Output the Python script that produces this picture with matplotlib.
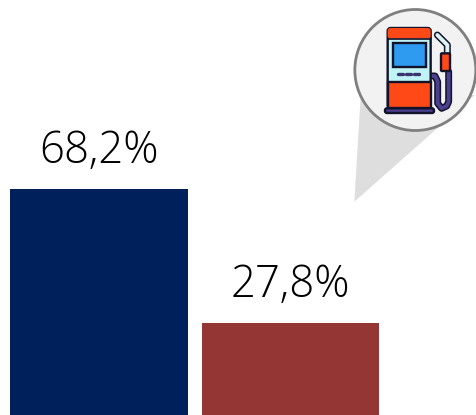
import matplotlib
matplotlib.use('Agg')
import matplotlib.pyplot as plt
from matplotlib.patches import Circle, Polygon, FancyBboxPatch, Rectangle

labels = ['68,2%', '27,8%']
values = [68.2, 27.8]
colors = ['#00205C', '#943634']

plt.rcParams['font.family'] = ['Open Sans', 'DejaVu Sans']

fig = plt.figure(figsize=(4.77, 4.15), dpi=100)
ax = fig.add_axes([0, 0, 1, 1])
ax.bar([0, 1], values, width=0.925, color=colors)
for i, v in enumerate(values):
    ax.text(i, v + 7.8, labels[i], ha='center', va='baseline', fontsize=31.5, fontweight='light', color='#000000')
ax.set_xlim(-0.517, -0.517 + 477 / 191.5)
ax.set_ylim(0, 125.4)
ax.axis('off')

# callout + pump icon, coordinates are pixels of the picture
ic = fig.add_axes([0, 0, 1, 1], facecolor='none')
ic.set_xlim(0, 477)
ic.set_ylim(415, 0)
ic.axis('off')


def z(x, y):
    # zoom crop coords -> picture pixels
    return (340 + x / 3, y / 3)


def rect(x0, y0, x1, y1, fc, lw=1.7, r=0.0, ec='#12122a', zo=5):
    a = z(x0, y0)
    b = z(x1, y1)
    if r > 0:
        p = FancyBboxPatch((a[0] + r, a[1] + r), b[0] - a[0] - 2 * r, b[1] - a[1] - 2 * r,
                           boxstyle='round,pad=%f' % r, fc=fc, ec=ec, lw=lw, zorder=zo)
    else:
        p = Rectangle(a, b[0] - a[0], b[1] - a[1], fc=fc, ec=ec, lw=lw, zorder=zo)
    ic.add_patch(p)


def line(pts, color, lw, zo=4):
    xy = [z(*p) for p in pts]
    ic.plot([p[0] for p in xy], [p[1] for p in xy], color=color, lw=lw, zorder=zo,
            solid_capstyle='round', solid_joinstyle='round')


ic.add_patch(Polygon([z(43, 605), z(62, 290), z(405, 285)], fc='#DEDEDE', ec='none', zorder=1))
ic.add_patch(Circle(z(226, 210), 60.5, fc='#F2F2F2', ec='#7F7F7F', lw=2, zorder=2))

# hose, dark outline first
hose = [(272, 228), (285, 228), (293, 245), (293, 310), (305, 325), (320, 318), (326, 305), (326, 215)]
line(hose, '#12122a', 5.0)
line(hose, '#4B3F8F', 2.8)
noz = [(292, 105), (322, 135), (322, 165)]
line(noz, '#12122a', 5.0)
line(noz, '#DDF3F5', 2.8)
rect(303, 160, 330, 213, '#FF4A17', r=1.0)

# pump body
rect(143, 84, 272, 325, '#BFF3F5', r=3.0)
rect(143, 84, 272, 116, '#FF4A17', r=3.0, lw=0.0, ec='none')
line([(143, 116), (272, 116)], '#12122a', 1.2, zo=6)
rect(143, 245, 272, 325, '#FF4A17')
rect(160, 130, 258, 200, '#2E9BF0', lw=1.7)
for x in [182, 206, 230]:
    line([(x - 8, 223), (x + 8, 223)], '#3A3470', 2.4, zo=6)
rect(135, 325, 282, 339, '#4B3F8F', r=2.0)

fig.savefig('out.png', dpi=100)
